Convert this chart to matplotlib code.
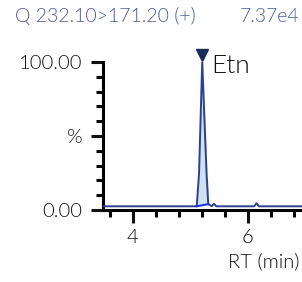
import matplotlib.pyplot as plt
from matplotlib.ticker import MultipleLocator, FixedLocator, FixedFormatter

# chromatogram trace (RT in min, relative intensity in %)
rt = [3.48, 5.11, 5.15, 5.205, 5.28, 5.31, 5.37, 5.41, 5.45, 6.11, 6.15, 6.19, 6.94]
intensity = [2.5, 2.5, 25.0, 100.0, 25.0, 4.0, 2.6, 4.2, 2.5, 2.5, 4.6, 2.5, 2.5]

peak_rt = 5.205
peak_name = "Etn"
peak_start = (5.11, 2.5)
peak_end = (5.31, 4.0)

title_left = "Q 232.10>171.20 (+)"
title_right = "7.37e4"

plt.rcParams['font.family'] = ['Lato', 'DejaVu Sans']
plt.rcParams['font.weight'] = 300

fig = plt.figure(figsize=(3.02, 2.82), dpi=100)
ax = fig.add_axes([103/302, 1-210/282, 1-103/302, 148/282])

line_c = '#2d3f8f'
ax.plot(rt, intensity, color=line_c, lw=1.4, zorder=3)

# integrated area between trace and baseline
px = [r for r in rt if peak_start[0] <= r <= peak_end[0]]
py = [i for r, i in zip(rt, intensity) if peak_start[0] <= r <= peak_end[0]]
base = [peak_start[1] + (x - peak_start[0]) / (peak_end[0] - peak_start[0]) * (peak_end[1] - peak_start[1]) for x in px]
ax.fill_between(px, base, py, color='#cfe0ef', zorder=2)
ax.plot([peak_start[0], peak_end[0]], [peak_start[1], peak_end[1]], color='#1f2fe0', lw=1.4, zorder=4)

ax.plot([peak_rt], [max(intensity) + 4.5], marker='v', ms=8, color='#1a2a5c', clip_on=False, zorder=5)
ax.text(peak_rt + 0.15, 97, peak_name, fontsize=19, color='#111111', va='center', ha='left')

ax.set_xlim(3.48, 6.94)
ax.set_ylim(0, 100)
ax.xaxis.set_major_locator(MultipleLocator(2))
ax.xaxis.set_minor_locator(MultipleLocator(0.4))
ax.yaxis.set_major_locator(FixedLocator([0, 50, 100]))
ax.yaxis.set_major_formatter(FixedFormatter(['0.00', '%', '100.00']))
ax.yaxis.set_minor_locator(MultipleLocator(10))

for s in ['top', 'right']:
    ax.spines[s].set_visible(False)
for s in ['left', 'bottom']:
    ax.spines[s].set_linewidth(2.2)
ax.tick_params(which='major', length=9, width=2.2, labelsize=14.5, colors='#111111', pad=5)
ax.tick_params(which='minor', length=5, width=2.2)
ax.tick_params(axis='y', which='major', pad=6)

fig.text(300/302, 1-262/282, "RT (min)", fontsize=14.5, ha='right', va='center', color='#111111')
fig.text(15/302, 1-16/282, title_left, fontsize=14, ha='left', va='center', color='#4b5a9c')
fig.text(299/302, 1-16/282, title_right, fontsize=14, ha='right', va='center', color='#4b5a9c')

fig.savefig('out.png', dpi=100)
